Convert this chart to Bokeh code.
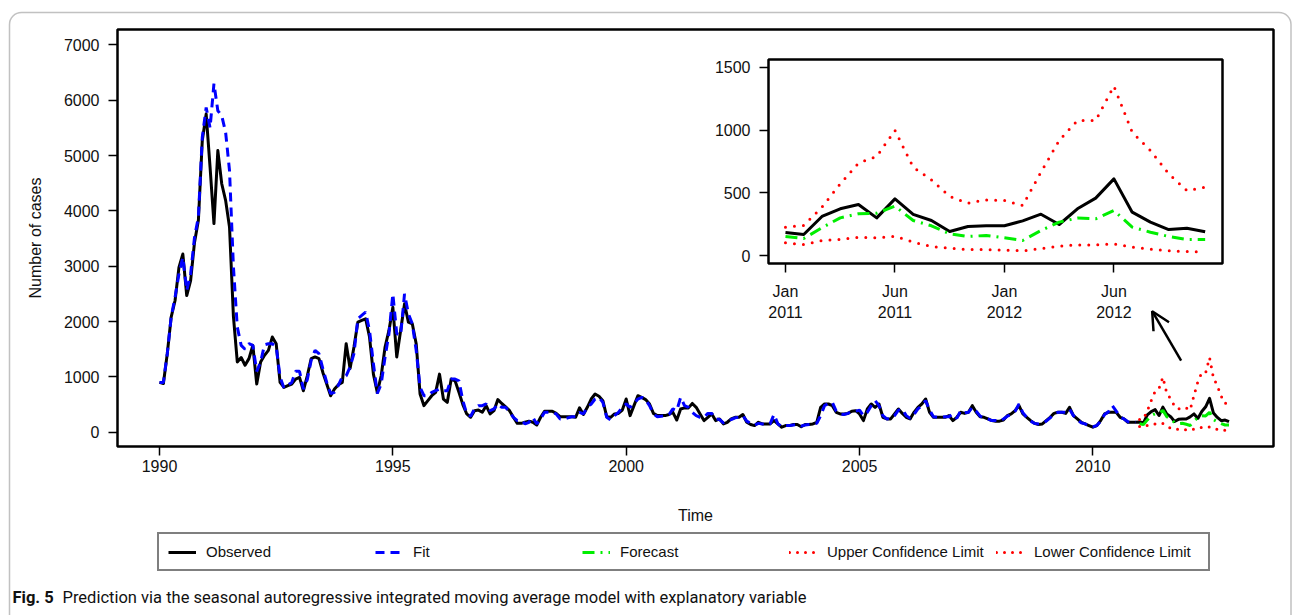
import numpy as np
from bokeh.plotting import figure
from bokeh.models import (Legend, LegendItem, Label, Arrow, OpenHead, BoxAnnotation,
                          FixedTicker, Range1d)
from bokeh.layouts import column
from bokeh.embed import file_html
from bokeh.resources import INLINE

# ---------------- data ----------------
START_YEAR = 1990
observed = [
    900, 880, 1420, 2080, 2380, 2980, 3220, 2470, 2740, 3430, 3830, 5270,      # 1990
    5750, 4790, 3770, 5090, 4490, 4190, 3710, 2100, 1270, 1350, 1210, 1330,    # 1991
    1570, 870, 1270, 1390, 1480, 1720, 1600, 900, 810, 840, 870, 960,          # 1992
    990, 750, 1020, 1330, 1360, 1330, 1080, 870, 660, 780, 860, 900,           # 1993
    1600, 1150, 1540, 1990, 2020, 2050, 1720, 1050, 720, 1020, 1540, 1840,     # 1994
    2260, 1360, 1840, 2320, 1990, 1960, 1600, 690, 480, 570, 660, 720,         # 1995
    1050, 600, 540, 960, 930, 720, 500, 330, 270, 390, 400, 360,               # 1996
    480, 330, 390, 590, 520, 460, 390, 270, 160, 160, 180, 200,                # 1997
    180, 130, 270, 380, 380, 380, 340, 280, 280, 280, 280, 270,                # 1998
    440, 320, 450, 600, 690, 650, 570, 280, 270, 330, 340, 400,                # 1999
    600, 300, 480, 660, 630, 590, 510, 340, 300, 300, 300, 320,                # 2000
    360, 220, 420, 440, 440, 520, 450, 330, 210, 270, 330, 210,                # 2001
    240, 150, 180, 240, 270, 270, 320, 180, 140, 120, 180, 150,                # 2002
    150, 150, 210, 150, 90, 120, 120, 140, 140, 100, 140, 140,                 # 2003
    150, 180, 450, 510, 510, 480, 360, 330, 330, 340, 380, 390,                # 2004
    330, 210, 420, 510, 450, 510, 270, 240, 240, 330, 420, 340,                # 2005
    270, 240, 360, 450, 510, 600, 360, 270, 270, 270, 270, 300,                # 2006
    210, 270, 360, 340, 360, 480, 360, 280, 270, 240, 210, 200,                # 2007
    200, 220, 300, 330, 390, 480, 330, 270, 210, 160, 140, 150,                # 2008
    210, 270, 340, 360, 360, 340, 450, 300, 240, 180, 150, 120,                # 2009
    90, 120, 210, 330, 360, 360, 360, 270, 240, 180, 180, 180,                 # 2010
    185, 170, 313, 374, 408, 302, 453, 329, 281, 193, 233, 239,                # 2011
    239, 278, 331, 249, 374, 459, 612, 347, 268, 209, 220, 191,                # 2012
]
fit = [
    900, 900, 1420, 2080, 2440, 2860, 3160, 2560, 2860, 3520, 3890, 5330,
    5870, 5500, 6300, 5810, 5720, 5420, 4730, 3000, 1900, 1570, 1500, 1600,
    1570, 1100, 1270, 1580, 1600, 1600, 1550, 1000, 800, 850, 900, 1100,
    1100, 780, 950, 1300, 1480, 1420, 1150, 900, 700, 720, 850, 1000,
    1020, 1180, 1420, 2050, 2110, 2170, 1840, 1240, 700, 870, 1360, 1780,
    2500, 1780, 1750, 2500, 2140, 1960, 1480, 810, 660, 660, 720, 750,
    780, 750, 750, 960, 960, 930, 570, 330, 290, 420, 480, 480,
    510, 390, 420, 510, 450, 450, 360, 270, 210, 220, 150, 180,
    270, 150, 240, 360, 360, 360, 330, 240, 240, 260, 280, 280,
    360, 330, 450, 510, 600, 630, 540, 270, 220, 300, 360, 450,
    510, 450, 510, 600, 630, 590, 480, 330, 280, 290, 300, 320,
    420, 390, 630, 480, 450, 360, 300, 270, 270, 340, 340, 240,
    230, 170, 190, 230, 260, 270, 300, 200, 160, 130, 160, 150,
    150, 150, 320, 150, 100, 120, 120, 130, 140, 110, 130, 140,
    150, 160, 300, 480, 520, 540, 380, 330, 320, 340, 370, 380,
    400, 300, 360, 480, 570, 480, 300, 240, 250, 300, 400, 420,
    300, 250, 320, 420, 480, 570, 400, 280, 270, 270, 280, 280,
    330, 250, 390, 350, 360, 450, 380, 290, 260, 240, 210, 210,
    200, 240, 290, 320, 380, 510, 350, 270, 200, 160, 150, 160,
    200, 260, 330, 360, 360, 360, 420, 300, 230, 170, 150, 120,
    100, 120, 200, 320, 370, 480, 380, 280, 240, 190, 180, 180,
]
forecast = [154, 138, 223, 302, 334, 339, 395, 281, 239, 175, 154, 162,
            143, 122, 201, 268, 300, 294, 360, 228, 188, 154, 130, 130]
upper = [228, 241, 387, 572, 737, 790, 997, 705, 604, 472, 419, 445,
         440, 400, 665, 917, 1076, 1076, 1349, 983, 838, 652, 519, 546]
lower = [103, 90, 122, 130, 148, 143, 156, 109, 74, 61, 50, 50,
         45, 40, 58, 77, 87, 87, 95, 69, 53, 40, 34, 29]

main_x_ticks = [1990, 1995, 2000, 2005, 2010]
main_y_ticks = [0, 1000, 2000, 3000, 4000, 5000, 6000, 7000]
inset_x_ticks = [0, 6, 12, 18]
inset_x_labels = ["Jan\n2011", "Jun\n2011", "Jan\n2012", "Jun\n2012"]
inset_y_ticks = [0, 500, 1000, 1500]
legend_labels = ["Observed", "Fit", "Forecast", "Upper Confidence Limit", "Lower Confidence Limit"]
caption_bold = "Fig. 5"
caption_text = "Prediction via the seasonal autoregressive integrated moving average model with explanatory variable"

# arrow (data coordinates of main chart)
arrow_from = (2011.89, 1296)
arrow_to = (2011.27, 2187)

W, H = 1292, 615
FONT = "Liberation Sans"
CAP_FONT = "Roboto"
BLACK, BLUE, GREEN, RED = "#000000", "#0000FF", "#00EE00", "#FF0000"
STY = {
    "obs": dict(line_color=BLACK, line_width=3, line_join="round"),
    "fit": dict(line_color=BLUE, line_width=3, line_dash="9 6"),
    "fc": dict(line_color=GREEN, line_width=3, line_dash="12 6 2 6"),
    "ci": dict(line_color=RED, line_width=3, line_dash="0 8", line_cap="round"),
}


def no_align(fig):
    try:
        fig.frame_align = False
    except Exception:
        pass


def style_axis(ax, size="16px", standoff=6):
    ax.axis_line_color = None
    ax.major_tick_line_color = "black"
    ax.major_tick_line_width = 1.5
    ax.major_tick_out = 9
    ax.major_tick_in = 0
    ax.minor_tick_line_color = None
    ax.major_label_text_font = FONT
    ax.major_label_text_font_size = size
    ax.major_label_text_color = "#111111"
    ax.major_label_standoff = standoff
    ax.axis_label_text_font = FONT
    ax.axis_label_text_font_style = "normal"
    ax.axis_label_text_font_size = size
    ax.axis_label_text_color = "#111111"


n_fit = len(fit)
x_obs = START_YEAR + np.arange(len(observed)) / 12.0
x_fit = START_YEAR + np.arange(n_fit) / 12.0
x_fc = START_YEAR + (n_fit + np.arange(len(forecast))) / 12.0

# ---------------- background canvas: border, legend, caption ----------------
B = figure(width=W, height=H, output_backend="svg", toolbar_location=None,
           x_range=Range1d(0, W), y_range=Range1d(0, H),
           x_axis_location=None, y_axis_location=None,
           min_border=0, min_border_left=0, min_border_right=0,
           min_border_top=0, min_border_bottom=0)
no_align(B)
B.grid.visible = False
B.outline_line_color = None
B.background_fill_color = "white"
B.border_fill_color = "white"

B.add_layout(BoxAnnotation(left=9, right=W - 1.5, top=H - 12, bottom=-40,
                           fill_alpha=0, line_color="#333333", line_width=1.5,
                           border_radius=12))

# legend key renderers (same series; their data lie outside this canvas's ranges)
proxy = [B.line(x_obs, observed, **STY["obs"]), B.line(x_fit, fit, **STY["fit"]),
         B.line(x_fc, forecast, **STY["fc"]), B.line(x_fc, upper, **STY["ci"]),
         B.line(x_fc, lower, **STY["ci"])]
legend = Legend(items=[LegendItem(label=lab, renderers=[r]) for lab, r in zip(legend_labels, proxy)],
                orientation="horizontal", location=(157, H - 571), margin=0,
                glyph_width=28, glyph_height=16, label_standoff=10, label_width=165,
                label_height=16, spacing=4, padding=9,
                border_line_color="black", border_line_width=2,
                background_fill_color="white", background_fill_alpha=1,
                label_text_font=FONT, label_text_font_size="15px", label_text_color="#111111")
B.add_layout(legend)

B.add_layout(Label(x=12, y=H - 597, text=caption_bold, text_font=CAP_FONT, text_font_style="bold",
                   text_font_size="16.5px", text_baseline="middle", text_color="#111111"))
B.add_layout(Label(x=62, y=H - 597, text=caption_text, text_font=CAP_FONT,
                   text_font_size="16.5px", text_baseline="middle", text_color="#111111"))

# ---------------- main figure ----------------
p = figure(width=W, height=H, output_backend="svg", toolbar_location=None,
           x_range=Range1d(1989.1, 2013.87), y_range=Range1d(-258, 7278),
           min_border_left=117, min_border_right=19, min_border_top=29, min_border_bottom=169)
no_align(p)
p.grid.visible = False
p.outline_line_color = "black"
p.outline_line_width = 2.5
p.background_fill_color = "white"
p.border_fill_alpha = 0

style_axis(p.xaxis[0], standoff=4)
style_axis(p.yaxis[0], standoff=9)
p.xaxis[0].ticker = FixedTicker(ticks=main_x_ticks)
p.yaxis[0].ticker = FixedTicker(ticks=main_y_ticks)
p.xaxis[0].axis_label = "Time"
p.xaxis[0].axis_label_standoff = 32
p.yaxis[0].axis_label = "Number of cases"
p.yaxis[0].axis_label_standoff = 17

p.line(x_obs, observed, **STY["obs"])
p.line(x_fit, fit, **STY["fit"])
p.line(x_fc, forecast, **STY["fc"])
p.line(x_fc, upper, **STY["ci"])
p.line(x_fc, lower, **STY["ci"])

p.add_layout(Arrow(end=OpenHead(size=18, line_width=2.5, line_color=BLACK),
                   x_start=arrow_from[0], y_start=arrow_from[1],
                   x_end=arrow_to[0], y_end=arrow_to[1],
                   line_width=2.5, line_color=BLACK))
p.margin = (-H, 0, 0, 0)

# ---------------- inset ----------------
q = figure(width=519, height=279, output_backend="svg", toolbar_location=None,
           x_range=Range1d(-0.93, 23.95), y_range=Range1d(-61, 1561),
           min_border_left=60, min_border_right=5, min_border_top=5, min_border_bottom=70)
no_align(q)
q.grid.visible = False
q.outline_line_color = "black"
q.outline_line_width = 2.5
q.background_fill_color = "white"
q.border_fill_alpha = 0
style_axis(q.xaxis[0], standoff=10)
style_axis(q.yaxis[0], standoff=9)
q.xaxis[0].ticker = FixedTicker(ticks=inset_x_ticks)
q.xaxis[0].major_label_overrides = {t: lab for t, lab in zip(inset_x_ticks, inset_x_labels)}
q.xaxis[0].major_label_text_line_height = 1.25
q.yaxis[0].ticker = FixedTicker(ticks=inset_y_ticks)

xi = np.arange(len(forecast))
obs_inset = observed[n_fit:]
q.line(xi, obs_inset, **STY["obs"])
q.line(xi, forecast, **STY["fc"])
q.line(xi, upper, line_color=RED, line_width=3, line_dash="0 9", line_cap="round")
q.line(xi, lower, line_color=RED, line_width=3, line_dash="0 9", line_cap="round")

inset_top = 54
q.margin = (inset_top - H, 0, H - (inset_top + 279), 708)

layout = column(B, p, q)
open("out.html", "w").write(file_html(layout, INLINE))
